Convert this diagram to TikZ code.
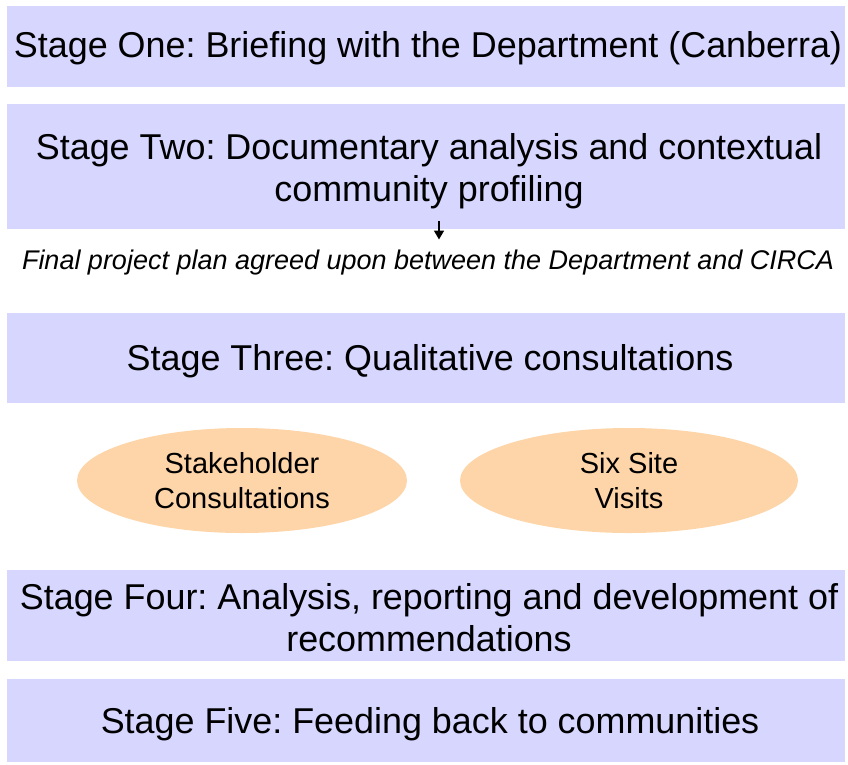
\documentclass[tikz,border=0pt]{standalone}
\usepackage{fontspec}
\setmainfont{Liberation Sans}
\usetikzlibrary{shapes.geometric,arrows.meta}
\definecolor{stagefill}{RGB}{214,214,255}
\definecolor{activityfill}{RGB}{253,213,168}
\begin{document}
\frenchspacing
\begin{tikzpicture}[x=1pt,y=-1pt,
  stagebox/.style={rectangle, fill=stagefill, draw=none, minimum width=838pt,
    inner sep=0pt},
  stagetext/.style={align=center, inner sep=0pt,
    font=\fontsize{35.9}{42}\selectfont},
  activity/.style={ellipse, fill=activityfill, draw=none, align=center,
    inner sep=0pt, font=\fontsize{29}{35}\selectfont},
  note/.style={inner sep=0pt, font=\fontsize{27}{32}\selectfont\itshape}]
\useasboundingbox (0,0) rectangle (848,764);

% stage boxes
\node[stagebox, minimum height=81pt]  (s1) at (426,46.5) {};
\node[stagebox, minimum height=125pt] (s2) at (426,166.5) {};
\node[stagebox, minimum height=90pt]  (s3) at (426,358) {};
\node[stagebox, minimum height=91pt]  (s4) at (426,615.5) {};
\node[stagebox, minimum height=83pt]  (s5) at (426,720.5) {};

% stage titles
\node[stagetext] (s1text) at ([xshift=2pt,yshift=-2pt]s1.center)
  {Stage One: Briefing with the Department (Canberra)};
\node[stagetext] (s2text) at ([xshift=3pt,yshift=-5pt]s2.center)
  {Stage Two: Documentary analysis and contextual\\community profiling};
\node[stagetext] (s3text) at ([xshift=4pt,yshift=-3pt]s3.center)
  {Stage Three: Qualitative consultations};
\node[stagetext] (s4text) at ([xshift=3pt,yshift=-2pt]s4.center)
  {Stage Four: Analysis, reporting and development of\\recommendations};
\node[stagetext] (s5text) at ([xshift=4pt,yshift=-4pt]s5.center)
  {Stage Five: Feeding back to communities};

% agreement note under stage two
\node[note] (plan) at (428,263)
  {Final project plan agreed upon between the Department and CIRCA};

% consultation activities
\node[activity, minimum width=330pt, minimum height=105pt] (stake) at (242,480.5)
  {Stakeholder\\Consultations};
\node[activity, minimum width=338pt, minimum height=105pt] (visits) at (629,480.5)
  {Six Site\\Visits};

% short arrow from stage two down to the note
\coordinate (tail) at (439,221);
\coordinate (tip) at (439,239.5);
\draw[-{Triangle[length=9pt,width=10pt]}, line width=1.6pt] (tail) -- (tip);
\end{tikzpicture}
\end{document}
